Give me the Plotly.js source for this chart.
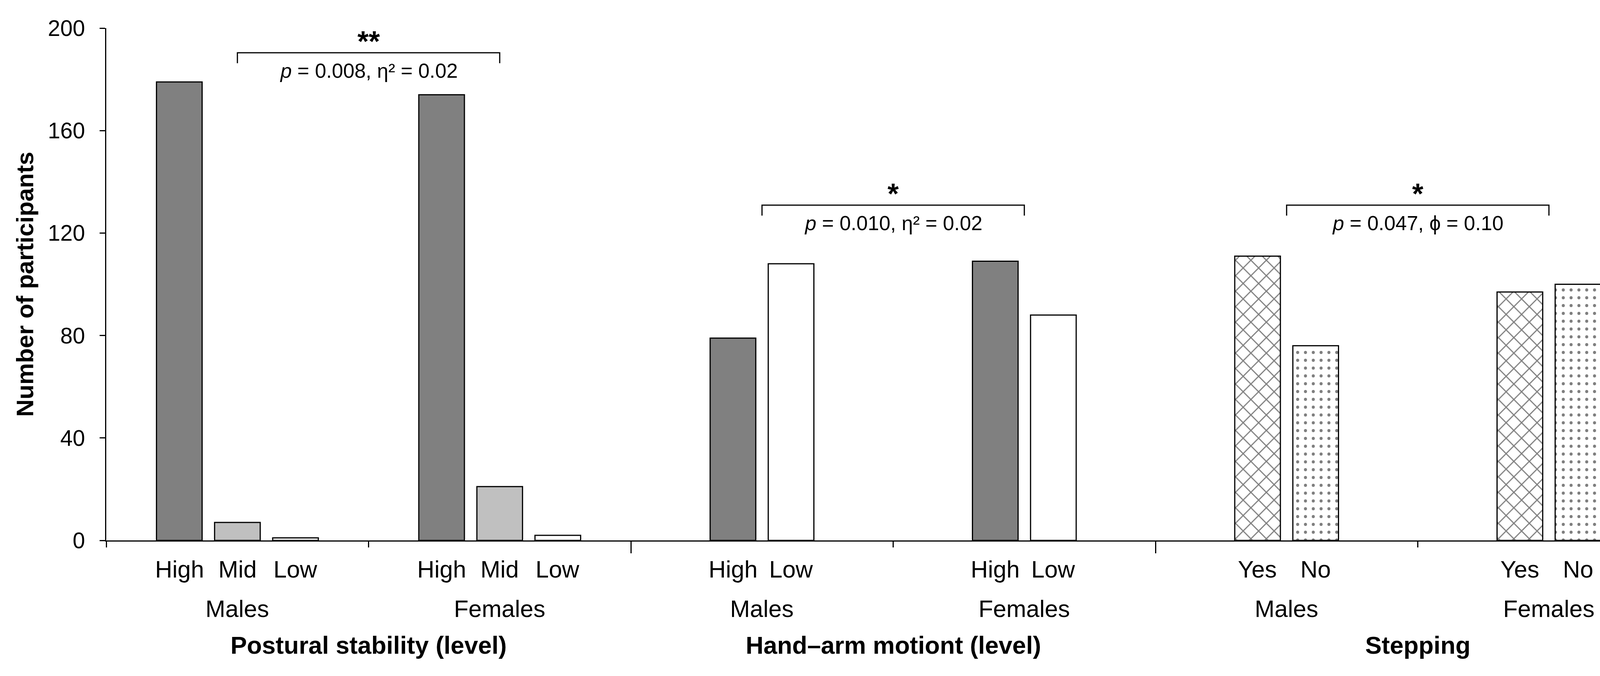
<!DOCTYPE html>
<html>
<head>
<meta charset="utf-8">
<script src="https://cdn.plot.ly/plotly-3.0.1.min.js"></script>
<style>html,body{margin:0;padding:0;background:#fff;}#chart{width:4337px;height:1730px;}</style>
</head>
<body>
<div id="chart"></div>
<script>
// ---- data ----
const sectionNames = ["Postural stability (level)", "Hand\u2013arm motiont (level)", "Stepping"];
const sexNames = ["Males", "Females"];
const posturalLevels = ["High", "Mid", "Low"];
const posturalMales = [179, 7, 1];
const posturalFemales = [174, 21, 2];
const handLevels = ["High", "Low"];
const handMales = [79, 108];
const handFemales = [109, 88];
const steppingLevels = ["Yes", "No"];
const steppingMales = [111, 76];
const steppingFemales = [97, 100];
const significance = ["**", "*", "*"];
const statLabels = ["<i>p</i> = 0.008, \u03b7\u00b2 = 0.02", "<i>p</i> = 0.010, \u03b7\u00b2 = 0.02", "<i>p</i> = 0.047, \u03d5 = 0.10"];
const yTicks = [0, 40, 80, 120, 160, 200];

// ---- layout constants ----
const FONT = "Liberation Sans, Arial, Helvetica, sans-serif";
const BAR_STEP = 0.2215, BAR_WIDTH = 0.174;
const bracketLevels = [190.4, 130.9, 130.9];
const bracketDrop = 4.1;

const sections = [
  {name: sectionNames[0], levels: posturalLevels, values: [posturalMales, posturalFemales]},
  {name: sectionNames[1], levels: handLevels, values: [handMales, handFemales]},
  {name: sectionNames[2], levels: steppingLevels, values: [steppingMales, steppingFemales]}
];

const styles = {
  High: {color: "#808080"},
  Mid: {color: "#c0c0c0"},
  Low: {color: "#ffffff"},
  Yes: {color: "#ffffff", pattern: {shape: "x", size: 28, solidity: 0.2, fgcolor: "#000", bgcolor: "#fff", fillmode: "overlay"}},
  No: {color: "#ffffff", pattern: {shape: ".", size: 20, solidity: 0.12, fgcolor: "#000", bgcolor: "#fff", fillmode: "overlay"}}
};

const traceMap = {};
const annotations = [];
const shapes = [];
const labelFont = {family: FONT, size: 61, color: "#000"};

sections.forEach((sec, s) => {
  const n = sec.levels.length;
  sec.values.forEach((vals, g) => {
    const gi = s * sexNames.length + g;
    const center = gi + 0.5;
    sec.levels.forEach((lvl, k) => {
      const x = center + (k - (n - 1) / 2) * BAR_STEP;
      if (!traceMap[lvl]) traceMap[lvl] = {x: [], y: []};
      traceMap[lvl].x.push(x);
      traceMap[lvl].y.push(vals[k]);
      annotations.push({x: x, y: 0, xref: "x", yref: "y", text: lvl, showarrow: false,
        xanchor: "center", yanchor: "middle", yshift: -74, font: labelFont});
    });
    annotations.push({x: center, y: 0, xref: "x", yref: "y", text: sexNames[g], showarrow: false,
      xanchor: "center", yanchor: "middle", yshift: -175, font: labelFont});
  });
  const mid = s * sexNames.length + sexNames.length / 2;
  annotations.push({x: mid, y: 0, xref: "x", yref: "y", text: "<b>" + sec.name + "</b>", showarrow: false,
    xanchor: "center", yanchor: "middle", yshift: -268, font: {family: FONT, size: 63, color: "#000"}});
  // bracket
  const x0 = s * 2 + 0.5, x1 = s * 2 + 1.5, yb = bracketLevels[s];
  shapes.push({type: "path", xref: "x", yref: "y",
    path: `M ${x0} ${yb - bracketDrop} L ${x0} ${yb} L ${x1} ${yb} L ${x1} ${yb - bracketDrop}`,
    line: {color: "#000", width: 3}});
  annotations.push({x: mid, y: yb, xref: "x", yref: "y", text: "<b>" + significance[s] + "</b>", showarrow: false,
    xanchor: "center", yanchor: "middle", yshift: 29, font: {family: FONT, size: 74, color: "#000"}});
  annotations.push({x: mid, y: yb, xref: "x", yref: "y", text: statLabels[s], showarrow: false,
    xanchor: "center", yanchor: "middle", yshift: -46, font: {family: FONT, size: 52, color: "#000"}});
});

const traces = Object.keys(traceMap).map(lvl => ({
  type: "bar", name: lvl, x: traceMap[lvl].x, y: traceMap[lvl].y, width: BAR_WIDTH,
  marker: Object.assign({line: {color: "#000", width: 3}}, styles[lvl]),
  hoverinfo: "x+y"
}));

const nGroups = sections.length * sexNames.length;
const majorTicks = [], minorTicks = [];
for (let i = 0; i <= nGroups; i++) {
  if (i > 0 && i < nGroups && i % sexNames.length === 0) majorTicks.push(i); else minorTicks.push(i);
}

const layout = {
  width: 4337, height: 1730,
  margin: {l: 272, r: 36, t: 72, b: 347},
  paper_bgcolor: "#fff", plot_bgcolor: "#fff",
  showlegend: false, barmode: "overlay",
  font: {family: FONT, color: "#000"},
  xaxis: {
    range: [0, nGroups], showline: true, linewidth: 3, linecolor: "#000",
    tickmode: "array", tickvals: majorTicks, showticklabels: false,
    ticks: "outside", ticklen: 30, tickwidth: 3, tickcolor: "#000",
    showgrid: false, zeroline: false, fixedrange: true,
    minor: {tickmode: "array", tickvals: minorTicks, ticks: "outside", ticklen: 15, tickwidth: 3, tickcolor: "#000", showgrid: false}
  },
  yaxis: {
    range: [0, 200], showline: true, linewidth: 3, linecolor: "#000",
    tickmode: "array", tickvals: yTicks,
    ticks: "outside", ticklen: 14, tickwidth: 3, tickcolor: "#000",
    tickfont: {family: FONT, size: 57, color: "#000"}, ticklabelstandoff: 26,
    showgrid: false, zeroline: false, fixedrange: true,
    title: {text: "<b>Number of participants</b>", font: {family: FONT, size: 62, color: "#000"}, standoff: 17}
  },
  annotations: annotations,
  shapes: shapes
};

Plotly.newPlot("chart", traces, layout, {displayModeBar: false, staticPlot: true});
</script>
</body>
</html>
